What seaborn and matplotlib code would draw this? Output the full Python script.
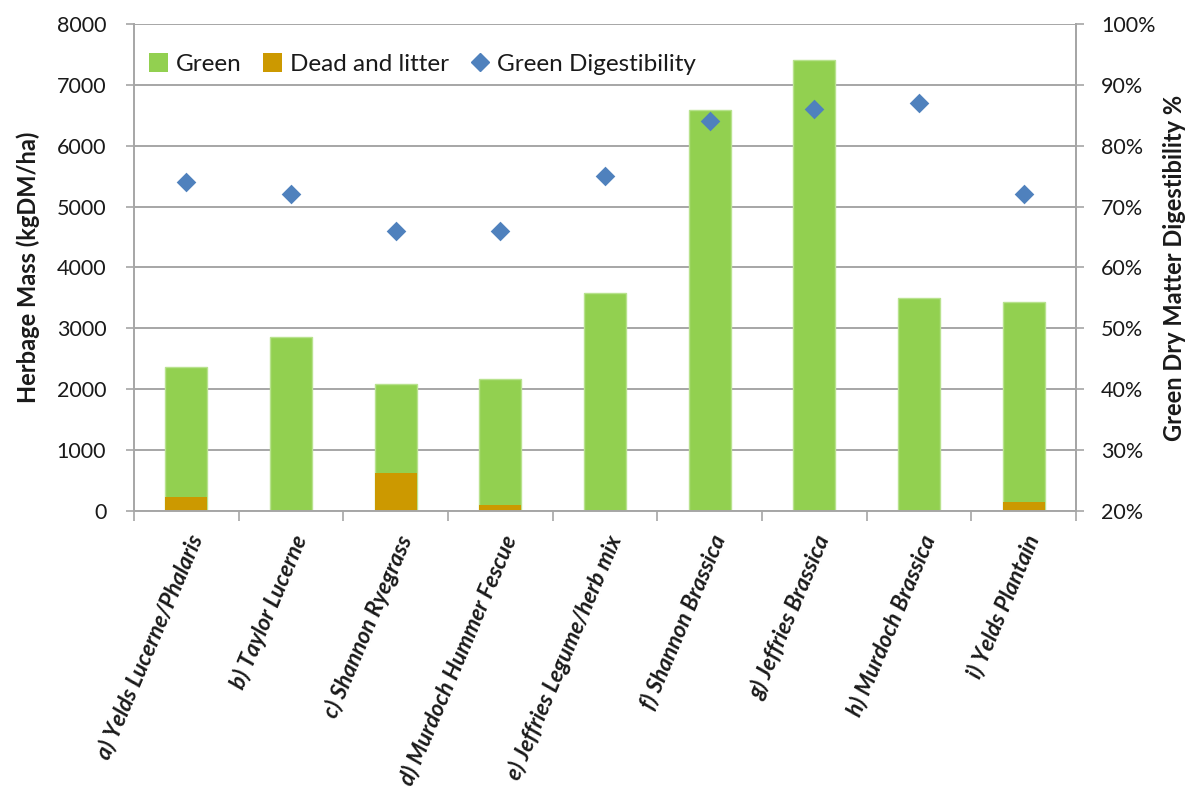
import matplotlib
matplotlib.use("Agg")
import matplotlib.pyplot as plt
from matplotlib.patches import Patch
from matplotlib.lines import Line2D
import seaborn as sns
import pandas as pd

# Pasture samples: herbage mass (kgDM/ha) split into green and dead material,
# plus green dry matter digestibility (%)
categories = [
    "a) Yelds Lucerne/Phalaris",
    "b) Taylor Lucerne",
    "c) Shannon Ryegrass",
    "d) Murdoch Hummer Fescue",
    "e) Jeffries Legume/herb mix",
    "f) Shannon Brassica",
    "g) Jeffries Brassica",
    "h) Murdoch Brassica",
    "i) Yelds Plantain",
]
green = [2135, 2860, 1465, 2070, 3580, 6590, 7400, 3500, 3275]
dead = [230, 0, 620, 100, 0, 0, 0, 0, 155]
digestibility = [74, 72, 66, 66, 75, 84, 86, 87, 72]

left_ticks = [0, 1000, 2000, 3000, 4000, 5000, 6000, 7000, 8000]
right_ticks = [20, 30, 40, 50, 60, 70, 80, 90, 100]

GREEN = "#92d050"
DEAD = "#cc9900"
BLUE = "#4f81bd"
GRID = "#a6a6a6"
TEXT = "#1a1a1a"

sns.set_theme(style="white")
plt.rcParams["font.family"] = ["Lato", "DejaVu Sans"]

df = pd.DataFrame({
    "site": categories,
    "green": green,
    "dead": dead,
    "digestibility": digestibility,
})
df["total"] = df["green"] + df["dead"]

fig = plt.figure(figsize=(11.97, 7.98), dpi=100)
ax = fig.add_axes([0.112, 0.3596, 0.787, 0.6104])

# stacked columns: full height in green, dead/litter portion drawn over the base
sns.barplot(data=df, x="site", y="total", color=GREEN, width=0.4,
            saturation=1, edgecolor="#b8e28e", linewidth=1, ax=ax)
sns.barplot(data=df, x="site", y="dead", color=DEAD, width=0.4,
            saturation=1, edgecolor="none", linewidth=0, ax=ax)

ax.set_ylim(0, 8000)
ax.set_yticks(left_ticks)
ax.set_yticklabels([str(t) for t in left_ticks], fontsize=15.5, color=TEXT)
ax.set_xlim(-0.5, len(categories) - 0.5)
ax.yaxis.grid(True, color=GRID, linewidth=1.4)
ax.set_axisbelow(True)
ax.set_ylabel("Herbage Mass (kgDM/ha)", fontsize=17, fontweight="bold",
              color=TEXT, labelpad=12)
ax.set_xlabel("")

# category labels rotated under each column, ticks between columns
ax.set_xticks(range(len(categories)))
ax.set_xticklabels(categories, rotation=67, ha="right", rotation_mode="anchor",
                   fontsize=16.3, fontstyle="italic", fontweight="bold", color=TEXT)
ax.tick_params(axis="x", which="major", length=0, pad=15)
ax.set_xticks([i + 0.5 for i in range(-1, len(categories))], minor=True)
ax.tick_params(axis="x", which="minor", length=7, width=1.2, color=GRID,
               direction="out", bottom=True)
ax.tick_params(axis="y", length=6, width=1.2, color=GRID, direction="out",
               left=True, pad=14)

ax.spines["top"].set_visible(False)
for side in ["left", "right", "bottom"]:
    ax.spines[side].set_color(GRID)
    ax.spines[side].set_linewidth(1.4)

# digestibility on the secondary axis
ax2 = ax.twinx()
sns.stripplot(data=df, x="site", y="digestibility", marker="D", size=10,
              color=BLUE, jitter=False, linewidth=0, ax=ax2, zorder=5)
ax2.set_xlim(-0.5, len(categories) - 0.5)
ax2.set_ylim(20, 100)
ax2.set_yticks(right_ticks)
ax2.set_yticklabels([f"{t}%" for t in right_ticks], fontsize=15.5, color=TEXT)
ax2.set_ylabel("Green Dry Matter Digestibility %", fontsize=17,
               fontweight="bold", color=TEXT, labelpad=5)
ax2.tick_params(axis="y", length=6, width=1.2, color=GRID, direction="out",
                right=True, pad=12)
ax2.set_xlabel("")
for side in ["top", "left", "bottom"]:
    ax2.spines[side].set_visible(False)
ax2.spines["right"].set_color(GRID)
ax2.spines["right"].set_linewidth(1.4)
ax2.grid(False)

handles = [
    Patch(facecolor=GREEN, edgecolor="none", label="Green"),
    Patch(facecolor=DEAD, edgecolor="none", label="Dead and litter"),
    Line2D([], [], marker="D", color=BLUE, linestyle="none", markersize=9,
           label="Green Digestibility"),
]
leg = ax2.legend(handles=handles, loc="upper left", ncol=3, frameon=False,
                 fontsize=17.5, handlelength=0.8, handleheight=0.8,
                 handletextpad=0.3, columnspacing=0.9,
                 bbox_to_anchor=(0.0, 0.97), borderaxespad=0.2)
for t in leg.get_texts():
    t.set_color(TEXT)

fig.savefig("out.png", dpi=100, facecolor="white")
